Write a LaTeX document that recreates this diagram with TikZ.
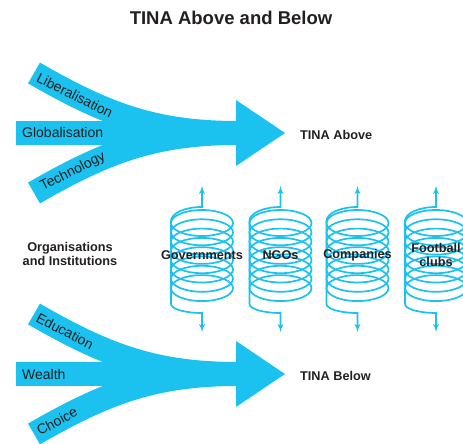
\documentclass[tikz,border=0pt]{standalone}
\usepackage{fontspec}
\setmainfont{Liberation Sans}
\usetikzlibrary{arrows}
\definecolor{tinablue}{RGB}{27,194,240}
\definecolor{inkgrey}{RGB}{35,31,32}

\begin{document}
\begin{tikzpicture}[x=1pt,y=1pt,>=latex',
  band/.style={draw=tinablue,line width=24pt},
  head/.style={fill=tinablue},
  coil/.style={draw=tinablue,line width=1.7pt},
  band label/.style={text=inkgrey,font=\fontsize{14}{16}\selectfont,inner sep=0pt},
  main label/.style={text=inkgrey,font=\fontsize{12.7}{14}\selectfont\bfseries,align=center,inner sep=0pt}]
  \useasboundingbox (0,0) rectangle (463,444);

  \node[text=inkgrey,font=\fontsize{18.5}{22}\selectfont\bfseries] (title) at (231,426) {TINA Above and Below};

  % upper arrow
  \coordinate (lib) at (34,371);
  \coordinate (glob) at (16,311);
  \coordinate (tech) at (34,251);
  \coordinate (up) at (238,311);
  \draw[band] (glob) -- (up);
  \draw[band] (lib) to[out=-30,in=180] node[band label,sloped,pos=0.2] (liblabel) {Liberalisation} (up);
  \draw[band] (tech) to[out=30,in=180] node[band label,sloped,pos=0.19] (techlabel) {Technology} (up);
  \node[band label,anchor=west] (globlabel) at (22,311) {Globalisation};
  \fill[head] (236,344) -- (285,311) -- (236,278) -- cycle;
  \node[main label,anchor=west] (above) at (300,309) {TINA Above};

  % lower arrow
  \coordinate (edu) at (34,130);
  \coordinate (wealth) at (16,70);
  \coordinate (choice) at (34,10);
  \coordinate (down) at (238,70);
  \draw[band] (wealth) -- (down);
  \draw[band] (edu) to[out=-30,in=180] node[band label,sloped,pos=0.15] (edulabel) {Education} (down);
  \draw[band] (choice) to[out=30,in=180] node[band label,sloped,pos=0.11] (choicelabel) {Choice} (down);
  \node[band label,anchor=west] (wealthlabel) at (22,70) {Wealth};
  \fill[head] (236,103) -- (285,70) -- (236,37) -- cycle;
  \node[main label,anchor=west] (below) at (300,68) {TINA Below};

  \node[main label] (org) at (70,190) {Organisations\\and Institutions};

  % coils
  \foreach \cx/\name/\txt in {202/gov/Governments, 280.5/ngo/NGOs, 357.5/comp/Companies, 436/club/{Football\\clubs}} {
    \foreach \k in {0,...,7}
      \draw[coil] (\cx,221-9.3*\k) ellipse[x radius=31,y radius=13];
    \draw[coil,<->] (\cx,258) -- (\cx,237)
      arc[start angle=90,end angle=180,x radius=31,y radius=14] -- (\cx-31,140)
      arc[start angle=180,end angle=270,x radius=31,y radius=9] -- (\cx,112);
    \node[main label] (\name) at (\cx,189) {\txt};
  }
\end{tikzpicture}
\end{document}
